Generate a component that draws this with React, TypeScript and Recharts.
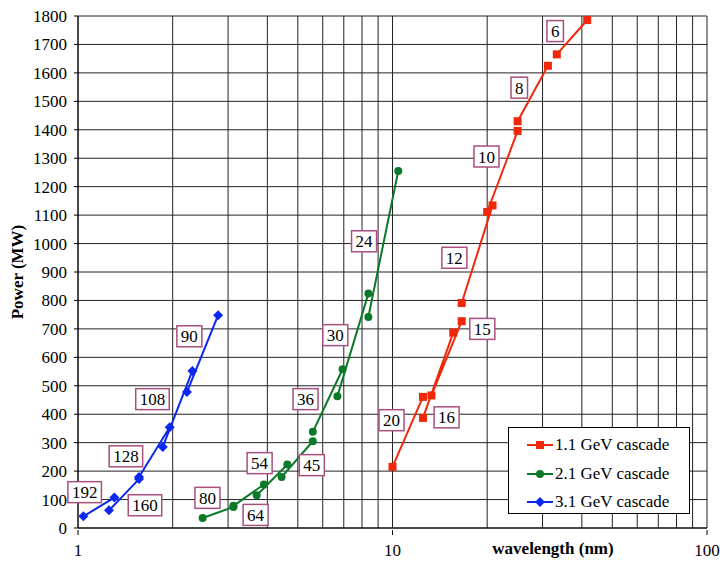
import { LineChart, Line, XAxis, YAxis, CartesianGrid, ReferenceDot } from 'recharts';

const xTicks = [1, 2, 3, 4, 5, 6, 7, 8, 9, 10, 20, 30, 40, 50, 60, 70, 80, 90, 100];
const yTicks = [0, 100, 200, 300, 400, 500, 600, 700, 800, 900, 1000, 1100, 1200, 1300, 1400, 1500, 1600, 1700, 1800];

// 1.1 GeV cascade: two points per harmonic (pairs in order of the harmonic list)
const harm11 = ['20', '16', '15', '12', '10', '8', '6'];
const wl11 = [10, 12.5, 12.5, 15.6, 13.3, 16.6, 16.6, 20.8, 20, 25, 25, 31.2, 33.3, 41.6];
const pw11 = [215, 461, 387, 687, 466, 727, 791, 1134, 1111, 1396, 1430, 1625, 1665, 1786];
const harm11X = [9.93, 14.86, 19.3, 15.73, 19.9, 25.3, 32.9];
const harm11Y = [379, 389, 700, 950, 1306, 1548, 1747];

// 2.1 GeV cascade
const harm21 = ['80', '64', '54', '45', '36', '30', '24'];
const wl21 = [2.49, 3.12, 3.12, 3.9, 3.7, 4.63, 4.44, 5.58, 5.58, 6.94, 6.68, 8.38, 8.38, 10.43];
const pw21 = [35, 74, 78, 153, 115, 223, 179, 305, 338, 558, 463, 824, 742, 1255];
const harm21X = [2.58, 3.67, 3.78, 5.54, 5.29, 6.58, 8.12];
const harm21Y = [106, 46, 228, 221, 453, 678, 1008];

// 3.1 GeV cascade
const harm31 = ['192', '160', '128', '108', '90'];
const wl31 = [1.04, 1.305, 1.255, 1.563, 1.563, 1.957, 1.86, 2.31, 2.22, 2.79];
const pw31 = [41, 107, 62, 172, 179, 354, 285, 552, 478, 748];
const harm31X = [1.05, 1.633, 1.42, 1.725, 2.26];
const harm31Y = [126, 80, 252, 453, 674];

const RED = '#f0280a';
const GREEN = '#0a7a28';
const BLUE = '#0a28f0';
const BOX = '#a8507e';
const FONT = "'Liberation Serif', Tinos, 'Times New Roman', 'DejaVu Serif', 'Noto Serif', serif";

// each harmonic is its own little segment: break the line after every pair
const toRows = (xs: number[], ys: number[]) => {
  const rows: { x: number; y: number | null }[] = [];
  xs.forEach((x, i) => {
    rows.push({ x, y: ys[i] });
    if (i % 2 === 1 && i < xs.length - 1) rows.push({ x, y: null });
  });
  return rows;
};

const square = (color: string) => (p: any) =>
  p.value == null || p.cy == null ? (
    <g key={`s${p.index}`} />
  ) : (
    <rect key={`s${p.index}`} x={p.cx - 4} y={p.cy - 4} width={8} height={8} fill={color} />
  );
const circle = (color: string) => (p: any) =>
  p.value == null || p.cy == null ? (
    <g key={`c${p.index}`} />
  ) : (
    <circle key={`c${p.index}`} cx={p.cx} cy={p.cy} r={4} fill={color} />
  );
const diamond = (color: string) => (p: any) =>
  p.value == null || p.cy == null ? (
    <g key={`d${p.index}`} />
  ) : (
    <polygon
      key={`d${p.index}`}
      points={`${p.cx},${p.cy - 5} ${p.cx + 5},${p.cy} ${p.cx},${p.cy + 5} ${p.cx - 5},${p.cy}`}
      fill={color}
    />
  );

const boxLabel = (text: string) => (p: any) => {
  const w = text.length * 8.5 + 8;
  return (
    <g>
      <rect x={p.cx - w / 2} y={p.cy - 10.5} width={w} height={21} fill="#fff" stroke={BOX} strokeWidth={1.5} />
      <text x={p.cx} y={p.cy + 6} textAnchor="middle" fontSize={17} fontFamily={FONT} fill="#000">
        {text}
      </text>
    </g>
  );
};

const XTick = (p: any) => {
  const v = p.payload.value;
  if (v !== 1 && v !== 10 && v !== 100) return <g />;
  return (
    <g>
      <line x1={p.x} x2={p.x} y1={p.y} y2={p.y + 5} stroke="#000" />
      <text x={p.x} y={p.y + 26} textAnchor="middle" fontSize={17} fontFamily={FONT} fill="#000">
        {v}
      </text>
    </g>
  );
};

const legendItems = [
  { name: '1.1 GeV cascade', color: RED, shape: 'square' },
  { name: '2.1 GeV cascade', color: GREEN, shape: 'circle' },
  { name: '3.1 GeV cascade', color: BLUE, shape: 'diamond' },
];

export default function App() {
  const labels = [
    ...harm11.map((t, i) => ({ t, x: harm11X[i], y: harm11Y[i] })),
    ...harm21.map((t, i) => ({ t, x: harm21X[i], y: harm21Y[i] })),
    ...harm31.map((t, i) => ({ t, x: harm31X[i], y: harm31Y[i] })),
  ];
  return (
    <div style={{ position: 'absolute', left: 0, top: 0, width: 720, height: 562, fontFamily: FONT }}>
      <LineChart width={720} height={562} margin={{ top: 16, right: 13, bottom: 0, left: 0 }}>
        <CartesianGrid stroke="#222" strokeWidth={1} />
        <XAxis
          type="number"
          dataKey="x"
          scale="log"
          domain={[1, 100]}
          ticks={xTicks}
          tick={<XTick />}
          tickLine={false}
          tickSize={0}
          height={34}
          interval={0}
          axisLine={{ stroke: '#000' }}
          allowDataOverflow
        />
        <YAxis
          type="number"
          domain={[0, 1800]}
          ticks={yTicks}
          interval={0}
          width={78}
          tickSize={4}
          tickMargin={7}
          tickLine={{ stroke: '#000' }}
          axisLine={{ stroke: '#000' }}
          tick={{ fontSize: 17, fill: '#000', fontFamily: FONT }}
        />
        <Line data={toRows(wl11, pw11)} dataKey="y" stroke={RED} strokeWidth={2} dot={square(RED)} isAnimationActive={false} />
        <Line data={toRows(wl21, pw21)} dataKey="y" stroke={GREEN} strokeWidth={2} dot={circle(GREEN)} isAnimationActive={false} />
        <Line data={toRows(wl31, pw31)} dataKey="y" stroke={BLUE} strokeWidth={2} dot={diamond(BLUE)} isAnimationActive={false} />
        {labels.map((l) => (
          <ReferenceDot key={l.t} x={l.x} y={l.y} r={0} shape={boxLabel(l.t)} ifOverflow="visible" />
        ))}
      </LineChart>
      <div
        style={{
          position: 'absolute',
          left: 18,
          top: 272,
          transform: 'translate(-50%, -50%) rotate(-90deg)',
          fontWeight: 'bold',
          fontSize: 17,
          whiteSpace: 'nowrap',
        }}
      >
        Power (MW)
      </div>
      <div
        style={{
          position: 'absolute',
          left: 553,
          top: 549,
          transform: 'translate(-50%, -50%)',
          fontWeight: 'bold',
          fontSize: 17,
          whiteSpace: 'nowrap',
        }}
      >
        wavelength (nm)
      </div>
      <div
        style={{
          position: 'absolute',
          left: 508,
          top: 427,
          width: 182,
          height: 87,
          background: '#fff',
          border: '1px solid #000',
          boxSizing: 'border-box',
          paddingTop: 3,
        }}
      >
        {legendItems.map((it) => (
          <div key={it.name} style={{ display: 'flex', alignItems: 'center', height: 28.5, fontSize: 17 }}>
            <svg width={48} height={12} style={{ marginLeft: 16 }}>
              <line x1={2} x2={28} y1={6} y2={6} stroke={it.color} strokeWidth={2} />
              {it.shape === 'square' && <rect x={11} y={2} width={8} height={8} fill={it.color} />}
              {it.shape === 'circle' && <circle cx={15} cy={6} r={4} fill={it.color} />}
              {it.shape === 'diamond' && <polygon points="15,1 20,6 15,11 10,6" fill={it.color} />}
            </svg>
            <span style={{ marginLeft: -18 }}>{it.name}</span>
          </div>
        ))}
      </div>
    </div>
  );
}
